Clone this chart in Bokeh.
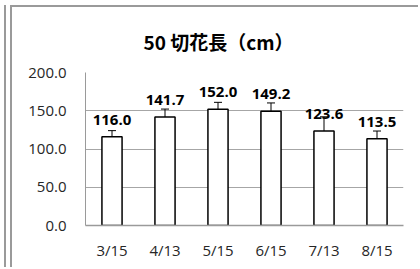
from bokeh.plotting import figure
from bokeh.models import ColumnDataSource, Whisker, TeeHead, LabelSet, Title, FixedTicker, PrintfTickFormatter
from bokeh.core.properties import value
from bokeh.embed import file_html
from bokeh.resources import INLINE

dates = ["3/15", "4/13", "5/15", "6/15", "7/13", "8/15"]
means = [116.0, 141.7, 152.0, 149.2, 123.6, 113.5]
errs = [8.0, 10.5, 9.0, 11.0, 18.5, 10.0]
labels = ["116.0", "141.7", "152.0", "149.2", "123.6", "113.5"]
y_ticks = [0, 50, 100, 150, 200]
title_text = "50 切花長（cm）"

src = ColumnDataSource(dict(
    x=dates, y=means, lab=labels,
    upper=[m + e for m, e in zip(means, errs)],
    lower=[m - e for m, e in zip(means, errs)],
))

FONT = "Open Sans"
TFONT = "Noto Sans CJK JP"
GRAY = "#9a9a9a"
p = figure(x_range=dates, y_range=(0, 200), width=408, height=262,
           output_backend="svg", toolbar_location=None,
           min_border_left=73, min_border_right=17, min_border_top=63, min_border_bottom=44)
p.styles = {
    "margin-left": "10px", "margin-top": "5px",
    "border-left": f"2px solid {GRAY}", "border-top": f"2px solid {GRAY}",
    "box-shadow": f"-4px 0 0 0 white, -6px 0 0 0 {GRAY}",
}
p.border_fill_color = "white"
p.background_fill_color = "white"
p.outline_line_color = None

p.add_layout(Title(text=title_text, align="left", offset=58, standoff=36,
                   text_font=TFONT, text_font_size="19px", text_font_style="bold",
                   text_color="#000000"), "above")

p.vbar(x="x", top="y", width=0.38, source=src, fill_color="white",
       line_color="black", line_width=1.5)
p.add_layout(Whisker(base="x", upper="upper", lower="lower", source=src,
                     line_color="black", line_width=1,
                     upper_head=TeeHead(size=8, line_color="black", line_width=1),
                     lower_head=TeeHead(size=8, line_color="black", line_width=1)))
p.add_layout(LabelSet(x="x", y="y", text="lab", source=src, y_offset=17,
                      text_align="center", text_baseline="middle",
                      text_font=value(FONT), text_font_size="15px", text_font_style="bold",
                      text_color="black"))

p.yaxis.ticker = FixedTicker(ticks=y_ticks)
p.yaxis.formatter = PrintfTickFormatter(format="%.1f")
for ax in (p.xaxis[0], p.yaxis[0]):
    ax.major_tick_line_color = None
    ax.minor_tick_line_color = None
    ax.major_tick_out = 0
    ax.major_tick_in = 0
    ax.minor_tick_out = 0
    ax.minor_tick_in = 0
    ax.major_label_text_font = FONT
    ax.major_label_text_font_size = "15px"
    ax.major_label_text_color = "#262626"
    ax.axis_line_color = GRAY
p.yaxis.axis_line_width = 1
p.yaxis.major_label_standoff = 19
p.xaxis.axis_line_width = 1.5
p.xaxis.major_label_standoff = 14
p.xgrid.grid_line_color = None
p.ygrid.grid_line_color = "#a6a6a6"
p.ygrid.grid_line_width = 1

open("out.html", "w").write(file_html(p, INLINE))
